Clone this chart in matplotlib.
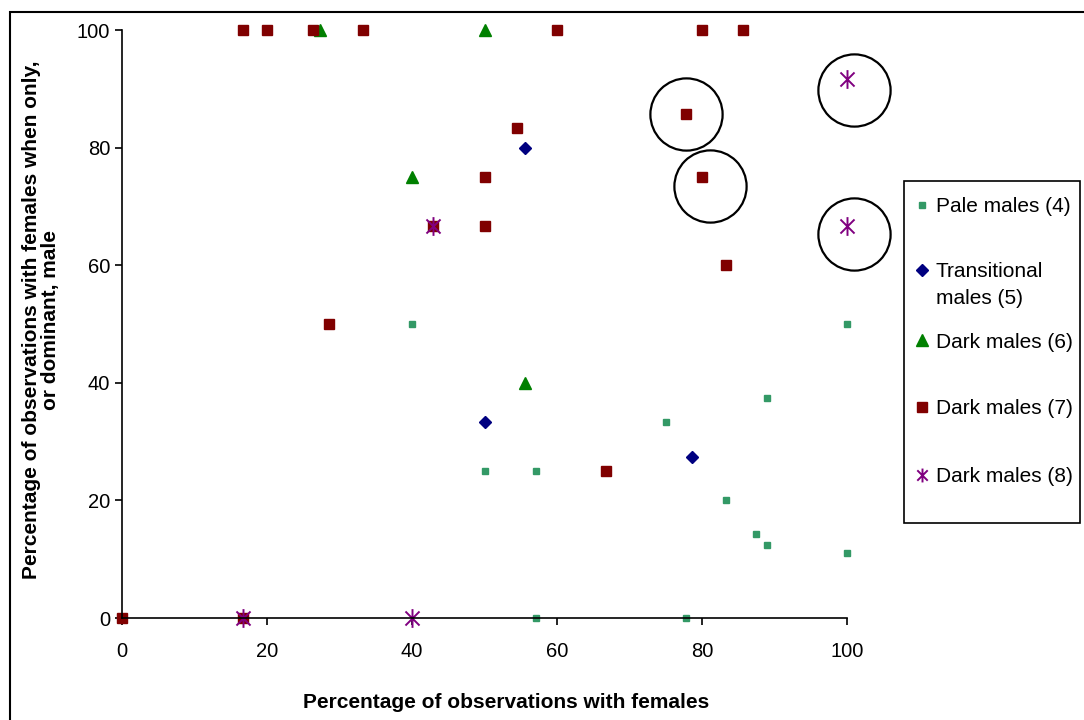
import matplotlib
matplotlib.use("Agg")
import matplotlib.pyplot as plt
from matplotlib.path import Path
from matplotlib.patches import Rectangle
from matplotlib.lines import Line2D

plt.rcParams['font.family'] = ['Liberation Sans', 'DejaVu Sans']

# Percentage of observations with females (x) and with females when only / dominant male (y)
pale_x = [40, 100, 88.9, 75, 50, 57.1, 83.3, 87.5, 88.9, 100, 57.1, 77.8]
pale_y = [50, 50, 37.5, 33.3, 25, 25, 20, 14.3, 12.5, 11.1, 0, 0]

trans_x = [55.6, 50, 78.6]
trans_y = [80, 33.3, 27.3]

dark6_x = [27.3, 50, 40, 55.6]
dark6_y = [100, 100, 75, 40]

dark7_x = [16.7, 20, 26.3, 33.3, 60, 80, 85.7, 77.8, 54.5, 50, 80, 50, 42.9, 83.3,
           28.6, 66.7, 0, 16.7]
dark7_y = [100, 100, 100, 100, 100, 100, 100, 85.7, 83.3, 75, 75, 66.7, 66.7, 60,
           50, 25, 0, 0]

dark8_x = [100, 100, 42.9, 16.7, 40]
dark8_y = [91.7, 66.7, 66.7, 0, 0]

# Hand-drawn rings around the highlighted males
ring_x = [101, 77.8, 81.1, 101]
ring_y = [89.8, 85.7, 73.5, 65.3]

labels = ["Pale males (4)", "Transitional\nmales (5)", "Dark males (6)",
          "Dark males (7)", "Dark males (8)"]
x_ticks = [0, 20, 40, 60, 80, 100]
y_ticks = [0, 20, 40, 60, 80, 100]

# Excel-style asterisk: vertical bar plus a cross
star = Path([(0, -1), (0, 1), (-0.75, -0.75), (0.75, 0.75), (-0.75, 0.75), (0.75, -0.75)],
            [Path.MOVETO, Path.LINETO, Path.MOVETO, Path.LINETO, Path.MOVETO, Path.LINETO])

W, H = 1084, 720
fig = plt.figure(figsize=(W / 100, H / 100), dpi=100)
ax = fig.add_axes([122 / W, 1 - 618 / H, (847 - 122) / W, (618 - 30) / H])

kw = dict(linestyle='none', clip_on=False)
h1, = ax.plot(pale_x, pale_y, marker='s', ms=5, color='#339966', mec='#339966', **kw)
h2, = ax.plot(trans_x, trans_y, marker='D', ms=6.5, color='#000080', mec='#000080', **kw)
h3, = ax.plot(dark6_x, dark6_y, marker='^', ms=8.5, color='#008000', mec='#008000', **kw)
h4, = ax.plot(dark7_x, dark7_y, marker='s', ms=7, color='#800000', mec='#800000', **kw)
h5, = ax.plot(dark8_x, dark8_y, marker=star, ms=13.5, color='#800080', mec='#800080',
              mew=1.4, **kw)
ax.plot(ring_x, ring_y, marker='o', ms=52, mfc='none', mec='black', mew=1.6, **kw)

ax.set_xlim(0, 100)
ax.set_ylim(0, 100)
ax.set_xticks(x_ticks)
ax.set_yticks(y_ticks)
for s in ('top', 'right'):
    ax.spines[s].set_visible(False)
for s in ('left', 'bottom'):
    ax.spines[s].set_linewidth(1.2)
ax.tick_params(direction='out', length=5, width=1.2, labelsize=14.5, pad=3.5)
ax.tick_params(axis='x', pad=12)

ax.set_xlabel("Percentage of observations with females", fontsize=15,
              fontweight='bold')
ax.xaxis.set_label_coords(0.53, -0.127)
ax.set_ylabel("Percentage of observations with females when only,\nor dominant, male",
              fontsize=15, fontweight='bold', linespacing=1.0)
ax.yaxis.set_label_coords(-0.085, 0.507)

# Legend: framed box with one row per series
fig.patches.append(Rectangle((904 / W, 1 - 523 / H), (1080 - 904) / W, (523 - 181) / H,
                             transform=fig.transFigure, fill=False,
                             edgecolor='black', linewidth=1.2))
row_y = [205, 270, 340, 407, 475]
legend_ms = [5, 6.5, 8.5, 7, 10]
for handle, label, ry, ms in zip([h1, h2, h3, h4, h5], labels, row_y, legend_ms):
    key = Line2D([922 / W], [1 - ry / H])
    key.update_from(handle)
    key.set_markersize(ms)
    key.set_transform(fig.transFigure)
    key.set_clip_on(False)
    fig.add_artist(key)
    fig.text(936 / W, 1 - (ry - 7.5) / H, label, fontsize=15, ha='left', va='top',
             linespacing=1.5)

# Outer frame of the chart area
fig.patches.append(Rectangle((10 / W, -0.1), 1.2, 1 - 12 / H + 0.1,
                             transform=fig.transFigure, fill=False,
                             edgecolor='black', linewidth=1.5))

fig.savefig("out.png", dpi=100)
